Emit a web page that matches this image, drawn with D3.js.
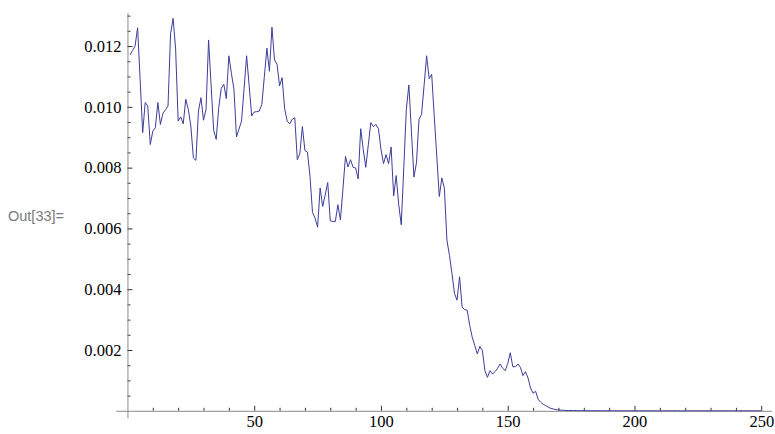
<!DOCTYPE html>
<html>
<head>
<meta charset="utf-8">
<script src="https://cdn.jsdelivr.net/npm/d3@7"></script>
<style>
  body { margin: 0; background: #fff; }
  svg text.num { font-family: 'Liberation Serif', 'Times New Roman', Times, 'DejaVu Serif', serif !important; }
</style>
</head>
<body>
<div id="chart"></div>
<script>
// series values, one per list index (1..250)
const values = [
  0.01171, 0.01185, 0.01200, 0.01260, 0.01090, 0.00915, 0.01014, 0.01003, 0.00876, 0.00920,
  0.00931, 0.01014, 0.00942, 0.00979, 0.00990, 0.01003, 0.01240, 0.01291, 0.01190, 0.00953,
  0.00967, 0.00944, 0.01025, 0.00992, 0.00937, 0.00832, 0.00824, 0.00986, 0.01030, 0.00956,
  0.00992, 0.01220, 0.01070, 0.00923, 0.00893, 0.00997, 0.01061, 0.01074, 0.01027, 0.01168,
  0.01110, 0.01058, 0.00901, 0.00927, 0.00953, 0.01060, 0.01168, 0.01070, 0.00970, 0.00983,
  0.00984, 0.00986, 0.01008, 0.01100, 0.01193, 0.01117, 0.01262, 0.01154, 0.01140, 0.01069,
  0.01096, 0.00994, 0.00953, 0.00944, 0.00959, 0.00964, 0.00826, 0.00846, 0.00935, 0.00856,
  0.00851, 0.00771, 0.00652, 0.00634, 0.00604, 0.00733, 0.00672, 0.00710, 0.00751, 0.00625,
  0.00623, 0.00623, 0.00678, 0.00628, 0.00730, 0.00837, 0.00802, 0.00826, 0.00801, 0.00799,
  0.00763, 0.00928, 0.00860, 0.00801, 0.00875, 0.00948, 0.00935, 0.00942, 0.00928, 0.00860,
  0.00813, 0.00843, 0.00813, 0.00868, 0.00707, 0.00774, 0.00678, 0.00612, 0.00800, 0.00992,
  0.01072, 0.00920, 0.00769, 0.00816, 0.00959, 0.00975, 0.01070, 0.01168, 0.01093, 0.01107,
  0.00970, 0.00840, 0.00705, 0.00766, 0.00733, 0.00562, 0.00512, 0.00452, 0.00386, 0.00364,
  0.00441, 0.00341, 0.00333, 0.00331, 0.00281, 0.00242, 0.00215, 0.00187, 0.00212, 0.00198,
  0.00132, 0.00110, 0.00132, 0.00121, 0.00129, 0.00140, 0.00154, 0.00140, 0.00132, 0.00156,
  0.00191, 0.00145, 0.00145, 0.00154, 0.00143, 0.00116, 0.00129, 0.00108, 0.00075, 0.00058,
  0.00064, 0.00038, 0.00028, 0.00021, 0.00017, 0.00012, 0.00008, 0.00006, 0.00004, 0.00003,
  0.00002, 0.00002, 0.00001, 0.00001, 0.00001, 0.000008, 0.000007, 0.000006, 0.000005, 0.000005,
  0.000004, 0.000004, 0.000003, 0.000003, 0.000003, 0.000002, 0.000002, 0.000002, 0.000002, 0.000001,
  0.000001, 0.000001, 0.000001, 0.000001, 0.000001, 0.000001, 0, 0, 0, 0,
  0, 0, 0, 0, 0, 0, 0, 0, 0, 0,
  0, 0, 0, 0, 0, 0, 0, 0, 0, 0,
  0, 0, 0, 0, 0, 0, 0, 0, 0, 0,
  0, 0, 0, 0, 0, 0, 0, 0, 0, 0,
  0, 0, 0, 0, 0, 0, 0, 0, 0, 0
];

// tick labels
const xMajor = [50, 100, 150, 200, 250];
const xMinor = [10, 20, 30, 40, 60, 70, 80, 90, 110, 120, 130, 140, 160, 170, 180, 190, 210, 220, 230, 240];
const yMajor = [0.002, 0.004, 0.006, 0.008, 0.010, 0.012];
const yMinor = [0.0005, 0.001, 0.0015, 0.0025, 0.003, 0.0035, 0.0045, 0.005, 0.0055, 0.0065, 0.007, 0.0075,
                0.0085, 0.009, 0.0095, 0.0105, 0.011, 0.0115, 0.0125, 0.013];
const outLabel = 'Out[33]=';

const width = 775, height = 434;

const svg = d3.select('#chart').append('svg')
  .attr('width', width)
  .attr('height', height);

// scales (plot range slightly padded like Mathematica)
const x = d3.scaleLinear().domain([-4.6, 254]).range([115.8, 771.4]);
const y = d3.scaleLinear().domain([-0.00023, 0.0131]).range([417.8, 12.6]);

const axisColor = '#8a8a8a';
const tickColor = '#333';

// x axis: minor ticks first, then major with labels
const xAxisG = svg.append('g').attr('transform', `translate(0,${y(0)})`);
xAxisG.append('g')
  .call(d3.axisBottom(x).tickValues(xMinor).tickSize(-3).tickSizeOuter(0).tickFormat(''))
  .call(g => g.select('.domain').remove());
xAxisG.append('g')
  .call(d3.axisBottom(x).tickValues(xMajor).tickSize(-5).tickSizeOuter(0).tickPadding(4))
  .call(g => g.select('.domain').attr('stroke', axisColor));
xAxisG.selectAll('.tick line').attr('stroke', tickColor);

// y axis
const yAxisG = svg.append('g').attr('transform', `translate(${x(0)},0)`);
yAxisG.append('g')
  .call(d3.axisLeft(y).tickValues(yMinor).tickSize(-3).tickSizeOuter(0).tickFormat(''))
  .call(g => g.select('.domain').remove());
yAxisG.append('g')
  .call(d3.axisLeft(y).tickValues(yMajor).tickSize(-5).tickSizeOuter(0).tickPadding(6).tickFormat(d3.format('.3f')))
  .call(g => g.select('.domain').attr('stroke', axisColor));
yAxisG.selectAll('.tick line').attr('stroke', tickColor);

// axes groups carry d3's sans-serif default; clear it so the serif labels show
svg.selectAll('g').attr('font-family', null);
svg.selectAll('.tick text')
  .attr('class', 'num')
  .attr('font-size', 16.5)
  .attr('fill', '#000');

// the data line
const line = d3.line()
  .x((d, i) => x(i + 1))
  .y(d => y(d));

svg.append('path')
  .datum(values)
  .attr('fill', 'none')
  .attr('stroke', '#3d3d99')
  .attr('stroke-width', 1)
  .attr('stroke-linejoin', 'round')
  .attr('d', line);

// notebook output label
svg.append('text')
  .attr('x', 8)
  .attr('y', 221)
  .attr('font-family', 'Liberation Sans, Arial, sans-serif')
  .attr('font-size', 14.5)
  .attr('fill', '#7a7a7a')
  .text(outLabel);
</script>
</body>
</html>
